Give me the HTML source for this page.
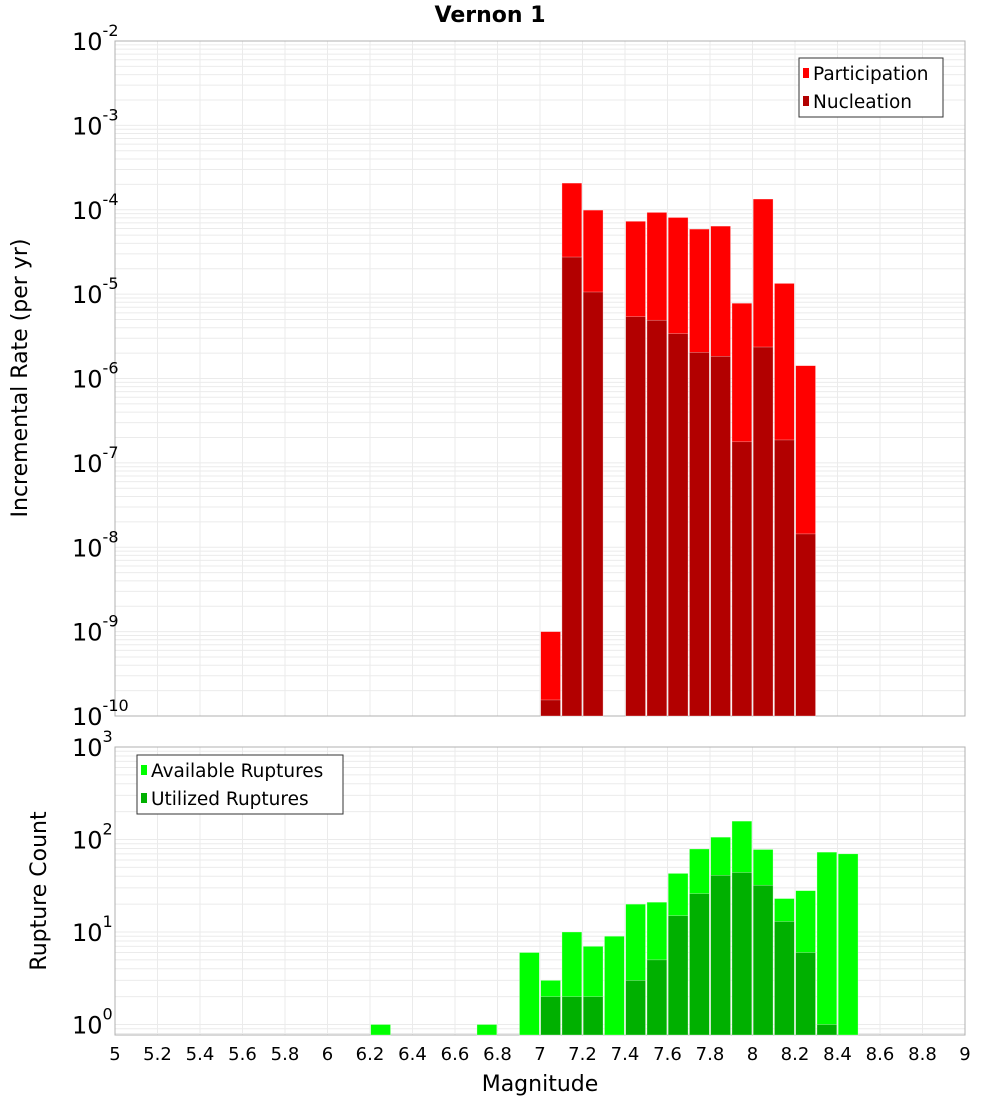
<!DOCTYPE html>
<html><head><meta charset="utf-8"><style>
body{margin:0;background:#fff;}
svg{display:block;font-family:"DejaVu Sans","Liberation Sans",sans-serif;}
</style></head><body>
<svg id="chart" width="1000" height="1100" xmlns="http://www.w3.org/2000/svg">
<text x="490" y="22" text-anchor="middle" font-weight="bold" font-size="22">Vernon 1</text>
<g id="top"></g><g id="bot"></g>
<text x="540" y="1091" text-anchor="middle" font-size="22">Magnitude</text>
<text transform="translate(27,378) rotate(-90)" text-anchor="middle" font-size="22">Incremental Rate (per yr)</text>
<text transform="translate(46,891) rotate(-90)" text-anchor="middle" font-size="22">Rupture Count</text>
</svg>
<script>
const topMags=[7.05,7.15,7.25,7.45,7.55,7.65,7.75,7.85,7.95,8.05,8.15,8.25];
const participation=[1e-9,2.07e-4,9.9e-5,7.3e-5,9.3e-5,8.1e-5,5.9e-5,6.4e-5,7.8e-6,1.34e-4,1.34e-5,1.42e-6];
const nucleation=[1.55e-10,2.75e-5,1.06e-5,5.4e-6,4.9e-6,3.4e-6,2.04e-6,1.83e-6,1.78e-7,2.36e-6,1.87e-7,1.44e-8];
const botMags=[6.25,6.75,6.95,7.05,7.15,7.25,7.35,7.45,7.55,7.65,7.75,7.85,7.95,8.05,8.15,8.25,8.35,8.45];
const available=[1,1,6,3,10,7,9,20,21,43,79,106,158,78,23,28,73,70];
const utilized=[0,0,0,2,2,2,0,3,5,15,26,41,44,32,13,6,1,0];
const xTicks=[5,5.2,5.4,5.6,5.8,6,6.2,6.4,6.6,6.8,7,7.2,7.4,7.6,7.8,8,8.2,8.4,8.6,8.8,9];
const topExp=[-2,-3,-4,-5,-6,-7,-8,-9,-10];
const botExp=[3,2,1,0];

const NS="http://www.w3.org/2000/svg";
const X0=115,X1=965;
function x(m){return X0+(m-5)/4*(X1-X0);}
function yTop(v){return 41+84.375*(-2-Math.log10(v));}
function yBot(v){return 747+92.5*(3-Math.log10(v));}
function mk(p,tag,a){const e=document.createElementNS(NS,tag);for(const k in a)e.setAttribute(k,a[k]);p.appendChild(e);return e;}

function panel(g,yT,yB,yf,expHi,expLo,name){
  for(const t of xTicks){const l=mk(g,'line',{x1:x(t),x2:x(t),y1:yT,y2:yB,stroke:'#ebebeb'});
    
    }
  for(let e=expLo;e<expHi;e++)for(let k=1;k<=9;k++){const yy=yf(k*Math.pow(10,e));if(yy<yT||yy>yB)continue;
    const l=mk(g,'line',{x1:X0,x2:X1,y1:yy,y2:yy,stroke:'#ebebeb'});
    
    }
  const r=mk(g,'rect',{x:X0,y:yT,width:X1-X0,height:yB-yT,fill:'none',stroke:'#b0b0b0'});
  
  
}
function bar(g,m,v,yf,yB,fill,name){if(v<=0)return;
  const x0=x(m-0.05)+0.7,w=x(m+0.05)-x(m-0.05)-1.4,yy=yf(v);
  const r=mk(g,'rect',{x:x0,y:yy,width:w,height:yB-yy,fill:fill,stroke:'#ffffff','stroke-opacity':0.5,'stroke-width':0.6});
  
  }
function ylab(g,e,yy,name){const t=mk(g,'text',{x:72,y:yy+9,'font-size':24});
  t.innerHTML='10<tspan dy="-14" font-size="16">'+e+'</tspan>';
  
  }
function legend(g,bx,by,w,items){const r=mk(g,'rect',{x:bx,y:by,width:w,height:59,fill:'#fff',stroke:'#333'});
  
  
  items.forEach((it,i)=>{const s=mk(g,'rect',{x:bx+4,y:by+10+i*28,width:6,height:10,fill:it[1]});
    
    
    const t=mk(g,'text',{x:bx+14,y:by+22+i*28,'font-size':18.5});t.textContent=it[0];
    
    });}

const gt=document.getElementById('top');
panel(gt,41,716,yTop,-2,-10,'top');
topMags.forEach((m,i)=>bar(gt,m,participation[i],yTop,716,'#ff0000','participation-bar'));
topMags.forEach((m,i)=>bar(gt,m,nucleation[i],yTop,716,'#b20000','nucleation-bar'));
topExp.forEach(e=>ylab(gt,e,yTop(Math.pow(10,e)),'top-y-tick'));
legend(gt,799,58,144,[['Participation','#ff0000'],['Nucleation','#b20000']]);

const gb=document.getElementById('bot');
panel(gb,747,1035,yBot,3,-1,'bottom');
botMags.forEach((m,i)=>bar(gb,m,available[i],yBot,1035,'#00ff00','available-bar'));
botMags.forEach((m,i)=>bar(gb,m,utilized[i],yBot,1035,'#00b000','utilized-bar'));
botExp.forEach(e=>ylab(gb,e,yBot(Math.pow(10,e)),'bottom-y-tick'));
legend(gb,137,755,206,[['Available Ruptures','#00ff00'],['Utilized Ruptures','#00b000']]);

xTicks.forEach(t=>{const tx=mk(gb,'text',{x:x(t),y:1060,'text-anchor':'middle','font-size':18});
  tx.textContent=String(t);
  
  });
</script>
</body></html>
